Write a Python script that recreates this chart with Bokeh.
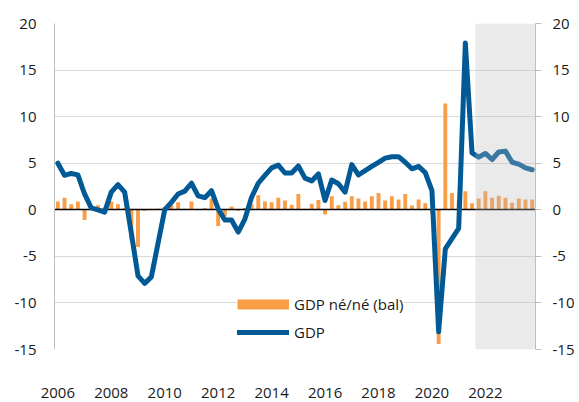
from bokeh.plotting import figure
from bokeh.models import (Range1d, LinearAxis, FixedTicker, Legend, LegendItem,
                          ColumnDataSource)
from bokeh.embed import file_html
from bokeh.resources import INLINE

# ---- data ----
years = list(range(2006, 2024))
quarters = [f"{y}Q{q}" for y in years for q in (1, 2, 3, 4)]

gdp_qq = [0.9, 1.3, 0.6, 0.9, -1.1, 0.3, 0.5, 0.2,
          0.9, 0.6, 0.2, -3.2, -4.0, -0.1, 0.0, 0.1,
          0.3, 0.5, 0.8, 0.1, 0.9, 0.0, 0.2, 1.2,
          -1.75, -0.7, 0.35, -0.1, 0.2, 0.6, 1.55, 0.9,
          0.8, 1.3, 1.0, 0.55, 1.7, 0.1, 0.65, 1.05,
          -0.5, 1.45, 0.5, 0.85, 1.45, 1.2, 0.9, 1.45,
          1.8, 1.0, 1.45, 1.1, 1.7, 0.45, 1.1, 0.7,
          -0.4, -14.4, 11.4, 1.8, 1.0, 2.0, 0.7, 1.2,
          2.0, 1.3, 1.5, 1.3, 0.75, 1.2, 1.1, 1.1]

gdp_yy = [5.0, 3.7, 3.9, 3.75, 1.7, 0.2, 0.0, -0.25,
          1.9, 2.7, 1.9, -2.5, -7.1, -7.9, -7.2, -3.6,
          0.0, 0.8, 1.7, 2.0, 2.85, 1.5, 1.3, 2.05,
          0.1, -1.1, -1.1, -2.4, -1.0, 1.35, 2.85, 3.7,
          4.5, 4.8, 3.95, 3.95, 4.7, 3.4, 3.1, 3.85,
          1.0, 3.2, 2.8, 1.9, 4.85, 3.75, 4.2, 4.65,
          5.1, 5.55, 5.7, 5.7, 5.1, 4.4, 4.65, 4.0,
          2.05, -13.1, -4.2, -3.1, -2.0, 17.9, 6.1, 5.65,
          6.05, 5.4, 6.2, 6.3, 5.1, 4.9, 4.5, 4.3]

tick_years = ["2006", "2008", "2010", "2012", "2014", "2016", "2018", "2020", "2022"]
y_ticks = [-15, -10, -5, 0, 5, 10, 15, 20]
y_tick_labels = ["-15", "-10", "-5", "0", "5", "10", "15", "20"]
forecast_start = "2021Q4"

label_qq = "GDP né/né (bal)"
label_yy = "GDP"

# ---- styles ----
ORANGE = "#f99d47"
BLUE = "#015a96"
GRID = "#d9d9d9"
AXIS = "#bfbfbf"
FONT = "Open Sans"
FSIZE = "15px"
TXT = "#1a1a1a"

n = len(quarters)
src = ColumnDataSource(dict(x=list(range(n)), qq=gdp_qq, yy=gdp_yy, q=quarters))

p = figure(width=577, height=402, output_backend="svg", toolbar_location=None,
           x_range=Range1d(-0.5, n - 0.5), y_range=Range1d(y_ticks[0], y_ticks[-1]),
           min_border_left=54, min_border_right=40, min_border_top=23,
           min_border_bottom=53, outline_line_color=None,
           background_fill_color="white", border_fill_color="white")

# x axis
xt = [quarters.index(y + "Q1") for y in tick_years]
p.xaxis.ticker = FixedTicker(ticks=xt)
p.xaxis.major_label_overrides = {i: y for i, y in zip(xt, tick_years)}
p.xaxis.major_tick_out = 0
p.xaxis.major_tick_in = 0
p.xaxis.minor_tick_out = 0
p.xaxis.minor_tick_in = 0
p.xaxis.axis_line_color = None
p.xaxis.major_label_standoff = 38
p.xaxis.major_label_text_line_height = 0.8

y_over = {t: s for t, s in zip(y_ticks, y_tick_labels)}

# left y axis
p.yaxis.ticker = FixedTicker(ticks=y_ticks)
p.yaxis.major_label_overrides = y_over
p.yaxis.major_tick_out = 0
p.yaxis.major_tick_in = 0
p.yaxis.minor_tick_out = 0
p.yaxis.minor_tick_in = 0
p.yaxis.axis_line_color = AXIS
p.yaxis.major_label_standoff = 18

# right y axis
ry = LinearAxis(ticker=FixedTicker(ticks=y_ticks), major_tick_out=6, major_tick_in=0,
                minor_tick_out=0, minor_tick_in=0, major_tick_line_color=AXIS,
                axis_line_color=AXIS, major_label_standoff=11,
                major_label_overrides=y_over)
p.add_layout(ry, "right")

for ax in [p.xaxis[0], p.yaxis[0], ry]:
    ax.major_label_text_font = FONT
    ax.major_label_text_font_size = FSIZE
    ax.major_label_text_color = TXT

p.xgrid.grid_line_color = None
p.ygrid.ticker = FixedTicker(ticks=y_ticks)
p.ygrid.grid_line_color = GRID
p.ygrid.grid_line_width = 1

# glyphs
p.vbar(x="x", top="qq", bottom=0, width=0.58, source=src,
       fill_color=ORANGE, line_color=None)
p.hspan(y=[0], line_color="black", line_width=1.5)
line_r = p.line(x="x", y="yy", source=src, line_color=BLUE, line_width=5,
                line_join="round", line_cap="round")

# forecast shading (drawn on top, semi-transparent)
fi = quarters.index(forecast_start)
p.quad(left=[fi - 0.5], right=[n - 0.5], bottom=[y_ticks[0]], top=[y_ticks[-1]],
       fill_color="#bbbbbb", fill_alpha=0.31, line_color=None)

# legend swatch for the bars (a thick flat line, no visible data)
bar_proxy = p.line(x=[0, 1], y=[float("nan"), float("nan")], line_color=ORANGE,
                   line_width=10, line_cap="butt")

legend = Legend(items=[LegendItem(label=label_qq, renderers=[bar_proxy]),
                       LegendItem(label=label_yy, renderers=[line_r])],
                location=(183, 7), glyph_width=52, glyph_height=20, label_height=20,
                spacing=8, padding=4, margin=0, label_standoff=5,
                border_line_color=None, background_fill_color="white",
                background_fill_alpha=1.0,
                label_text_font=FONT, label_text_font_size=FSIZE,
                label_text_color=TXT)
p.add_layout(legend)

open("out.html", "w").write(file_html(p, INLINE))
